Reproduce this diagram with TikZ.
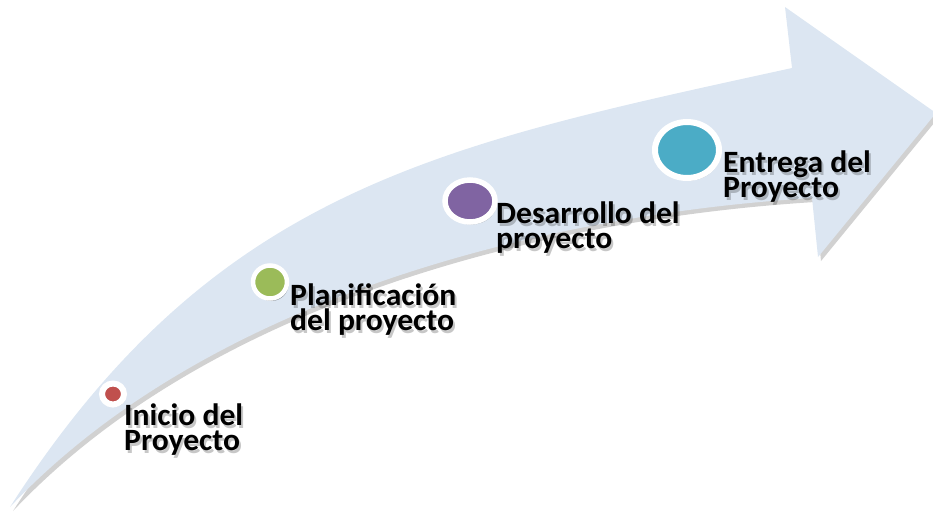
\documentclass[tikz,border=0pt]{standalone}
\usepackage{fontspec}
\newfontfamily\lblfont{Carlito}[FakeStretch=1.02]
\usetikzlibrary{shapes.geometric,shadows}
\definecolor{arrowfill}{RGB}{220,230,242}
\definecolor{cred}{RGB}{192,80,77}
\definecolor{cgreen}{RGB}{155,187,89}
\definecolor{cpurple}{RGB}{128,100,162}
\definecolor{cteal}{RGB}{75,172,198}
\newcommand\twoln[2]{\vtop{\baselineskip=25pt\lineskiplimit=-40pt\lineskip=0pt\hbox{#1}\hbox{#2}}}
\begin{document}
\begin{tikzpicture}[x=1pt,y=-1pt,
  lbl/.style={anchor=base west, inner sep=0pt, font=\lblfont\bfseries\fontsize{31}{25}\selectfont, text=black},
  lblshadow/.style={lbl, text=black, opacity=0.22},
  dot/.style={ellipse, draw=white, inner sep=0pt,
    drop shadow={shadow xshift=1.5pt, shadow yshift=-2.5pt, opacity=0.3, fill=black}},
  arrowshape/.style={fill=arrowfill,
    drop shadow={shadow xshift=3pt, shadow yshift=-4pt, opacity=0.18, fill=black}}
]
\useasboundingbox (0,0) rectangle (933,515);
\clip (0,0) rectangle (933,515);

% curved arrow
\coordinate (tail) at (10,507);
\coordinate (ntop) at (792,68);
\coordinate (htop) at (785,7);
\coordinate (tip)  at (936,113);
\coordinate (hbot) at (818,257);
\coordinate (nbot) at (812,198);
\fill[arrowshape]
  (tail) .. controls (215,188) and (440,145) .. (ntop)
  -- (htop) -- (tip) -- (hbot) -- (nbot)
  .. controls (552,214) and (210,295) .. (tail)
  -- cycle;

% milestone dots
\node[dot, fill=cred, line width=6pt, minimum width=22pt, minimum height=21pt] (d1) at (113,394) {};
\node[dot, fill=cgreen, line width=4.5pt, minimum width=34pt, minimum height=33pt] (d2) at (270,282) {};
\node[dot, fill=cpurple, line width=5.5pt, minimum width=50pt, minimum height=42pt] (d3) at (470,201) {};
\node[dot, fill=cteal, line width=6pt, minimum width=64pt, minimum height=56pt] (d4) at (687,150) {};

% label shadows
\node[lblshadow] (s1) at (126,428) {\twoln{Inicio del}{Proyecto}};
\node[lblshadow] (s2) at (292,308) {\twoln{Planificación}{del proyecto}};
\node[lblshadow] (s3) at (498,226) {\twoln{Desarrollo del}{proyecto}};
\node[lblshadow] (s4) at (725,175) {\twoln{Entrega del}{Proyecto}};

% labels
\node[lbl] (t1) at (124,425) {\twoln{Inicio del}{Proyecto}};
\node[lbl] (t2) at (290,305) {\twoln{Planificación}{del proyecto}};
\node[lbl] (t3) at (496,223) {\twoln{Desarrollo del}{proyecto}};
\node[lbl] (t4) at (723,172) {\twoln{Entrega del}{Proyecto}};
\end{tikzpicture}
\end{document}
